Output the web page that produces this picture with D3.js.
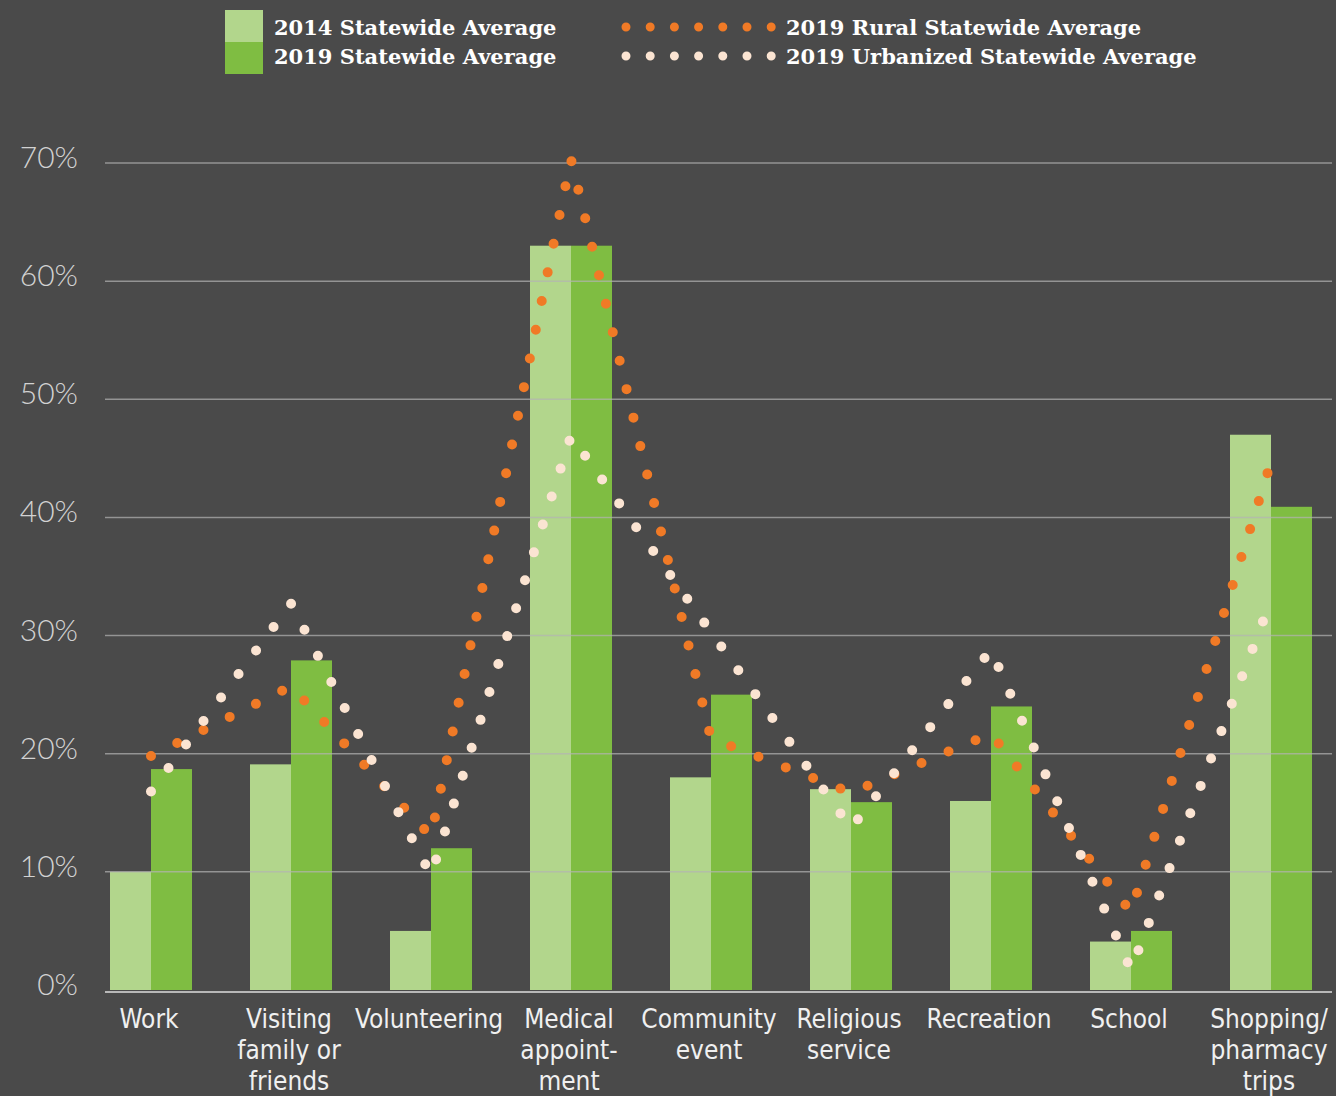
<!DOCTYPE html>
<html>
<head>
<meta charset="utf-8">
<script src="https://cdn.jsdelivr.net/npm/d3@7"></script>
<style>
  body { margin: 0; background: #4a4a4a; }
  svg { display: block; }
</style>
</head>
<body>
<div id="chart"></div>
<script>
// data
var categories = ["Work", "Visiting family or friends", "Volunteering", "Medical appointment",
  "Community event", "Religious service", "Recreation", "School", "Shopping/pharmacy trips"];
var catLabels = [["Work"], ["Visiting", "family or", "friends"], ["Volunteering"],
  ["Medical", "appoint-", "ment"], ["Community", "event"], ["Religious", "service"],
  ["Recreation"], ["School"], ["Shopping/", "pharmacy", "trips"]];
var avg2014 = [10, 19.1, 5, 63, 18, 17, 16, 4.1, 47];
var avg2019 = [18.7, 27.9, 12, 63, 25, 15.9, 24, 5, 40.9];
var rural2019 = [19.8, 25.7, 13, 70.3, 21.3, 16.7, 21.7, 6.6, 44.7];
var urban2019 = [16.8, 32.7, 9.7, 46.9, 30.3, 13.7, 28.8, 1.7, 33];
var yTicks = [0, 10, 20, 30, 40, 50, 60, 70];
var barSeries = ["2014 Statewide Average", "2019 Statewide Average"];
var lineSeries = ["2019 Rural Statewide Average", "2019 Urbanized Statewide Average"];

var width = 1336, height = 1096;
var barColor = {"2014 Statewide Average": "#b2d68c", "2019 Statewide Average": "#7fbd42"};
var dotColor = {"2019 Rural Statewide Average": "#f07a26", "2019 Urbanized Statewide Average": "#fbe4d2"};

var svg = d3.select("#chart")
  .append("svg")
    .attr("width", width)
    .attr("height", height);

svg.append("rect")
  .attr("width", width)
  .attr("height", height)
  .attr("fill", "#4a4a4a");

// scales
var x = d3.scaleBand()
  .domain(categories)
  .range([81, 1341])
  .paddingInner(58 / 140)
  .paddingOuter(29 / 140);

var xSub = d3.scaleBand()
  .domain(barSeries)
  .range([0, x.bandwidth()]);

var y = d3.scaleLinear()
  .domain([0, 70])
  .range([990, 163]);

var gridLeft = 105, gridRight = 1332;

// bars
var barData = categories.map(function(c, i) {
  return [{cat: c, s: barSeries[0], v: avg2014[i]}, {cat: c, s: barSeries[1], v: avg2019[i]}];
});

svg.append("g")
  .selectAll("g")
  .data(barData)
  .enter()
  .append("g")
    .attr("transform", function(d) { return "translate(" + x(d[0].cat) + ",0)"; })
  .selectAll("rect")
  .data(function(d) { return d; })
  .enter()
  .append("rect")
    .attr("x", function(d) { return xSub(d.s); })
    .attr("width", xSub.bandwidth())
    .attr("y", function(d) { return y(d.v); })
    .attr("height", function(d) { return y(0) - y(d.v); })
    .attr("fill", function(d) { return barColor[d.s]; });

// gridlines (drawn over the bars like in the original)
svg.append("g")
  .selectAll("line")
  .data(yTicks.filter(function(t) { return t > 0; }))
  .enter()
  .append("line")
    .attr("x1", gridLeft)
    .attr("x2", gridRight)
    .attr("y1", function(d) { return y(d); })
    .attr("y2", function(d) { return y(d); })
    .attr("stroke", "#b4b4b4")
    .attr("stroke-opacity", 0.7)
    .attr("stroke-width", 1.5);

// baseline
svg.append("line")
  .attr("x1", gridLeft)
  .attr("x2", gridRight)
  .attr("y1", y(0) + 2)
  .attr("y2", y(0) + 2)
  .attr("stroke", "#b8b8b8")
  .attr("stroke-width", 2);

// y labels
svg.append("g")
  .selectAll("text")
  .data(yTicks)
  .enter()
  .append("text")
    .attr("x", 78)
    .attr("y", function(d) { return y(d) + 5; })
    .attr("text-anchor", "end")
    .style("font-family", "Lato, 'Noto Sans', sans-serif")
    .style("font-weight", 300)
    .style("font-size", "30px")
    .attr("fill", "#d2d2d2")
    .text(function(d) { return d + "%"; });

// x labels
var xl = svg.append("g")
  .selectAll("text")
  .data(categories)
  .enter()
  .append("text")
    .attr("transform", function(d) { return "translate(" + (x(d) + x.bandwidth() / 2 - 2) + ",1028)"; })
    .attr("text-anchor", "middle")
    .style("font-family", "'DejaVu Sans Condensed', 'DejaVu Sans', sans-serif")
    .style("font-stretch", "condensed")
    .style("font-size", "26px")
    .attr("fill", "#f0f0f0");

xl.selectAll("tspan")
  .data(function(d, i) { return catLabels[i]; })
  .enter()
  .append("tspan")
    .attr("x", 0)
    .attr("dy", function(d, i) { return i === 0 ? 0 : 31; })
    .text(function(d) { return d; });

// dotted lines
var line = d3.line()
  .x(function(d) { return x(d.cat) + x.bandwidth() / 2; })
  .y(function(d) { return y(d.v); });

[rural2019, urban2019].forEach(function(vals, k) {
  var pts = categories.map(function(c, i) { return {cat: c, v: vals[i]}; });
  svg.append("path")
    .datum(pts)
    .attr("d", line)
    .attr("fill", "none")
    .attr("stroke", dotColor[lineSeries[k]])
    .attr("stroke-width", 10)
    .attr("stroke-linecap", "round")
    .attr("stroke-dasharray", "0 29.3");
});

// legend
var legend = svg.append("g");

legend.selectAll("rect")
  .data(barSeries)
  .enter()
  .append("rect")
    .attr("x", 225)
    .attr("y", function(d, i) { return 10 + i * 32; })
    .attr("width", 38)
    .attr("height", 32)
    .attr("fill", function(d) { return barColor[d]; });

legend.selectAll("path")
  .data(lineSeries)
  .enter()
  .append("path")
    .attr("d", function(d, i) { return "M626," + (27 + i * 29) + "H772"; })
    .attr("stroke", function(d) { return dotColor[d]; })
    .attr("stroke-width", 9)
    .attr("stroke-linecap", "round")
    .attr("stroke-dasharray", "0 24.2");

legend.selectAll("text")
  .data(barSeries.concat(lineSeries))
  .enter()
  .append("text")
    .attr("x", function(d, i) { return i < 2 ? 274 : 786; })
    .attr("y", function(d, i) { return 35 + (i % 2) * 29; })
    .style("font-family", "'DejaVu Serif', serif")
    .style("font-weight", "bold")
    .style("font-size", "21px")
    .attr("fill", "#ffffff")
    .text(function(d) { return d; });
</script>
</body>
</html>
